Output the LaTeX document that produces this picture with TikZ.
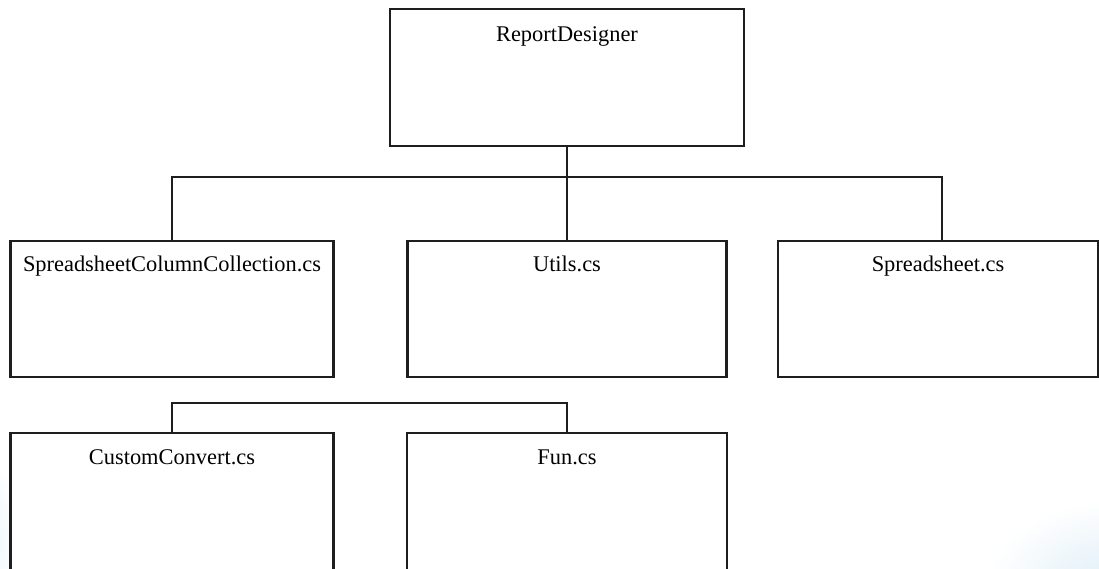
\documentclass[tikz,border=0pt]{standalone}
\usepackage{fontspec}
\setmainfont{Liberation Serif}
\definecolor{linegray}{HTML}{1E1E1E}
\definecolor{skyhaze}{HTML}{DDEDF7}
\begin{document}
\begin{tikzpicture}[x=1pt, y=-1pt,
  filebox/.style={draw=linegray, line width=2.2pt, fill=white, rectangle, inner sep=0pt},
  filename/.style={anchor=base, inner sep=0pt, font=\fontsize{22.4}{25}\selectfont, text=black},
  wire/.style={draw=linegray, line width=2.2pt, line cap=rect}]
  % page frame
  \path[use as bounding box] (0,0) rectangle (1099,568);
  \fill[white] (0,0) rectangle (1099,568);
  % faint blue glow in the lower corners
  \begin{scope}
    \clip (0,0) rectangle (1099,568);
    \shade[inner color=skyhaze, outer color=white] (1115,590) ellipse [x radius=130, y radius=90];
    \shade[inner color=skyhaze!70, outer color=white] (-20,540) ellipse [x radius=40, y radius=90];
  \end{scope}

  % boxes
  \node[filebox, minimum width=354pt, minimum height=137pt] (rd)    at (567,77.5) {};
  \node[filebox, minimum width=323pt, minimum height=136pt] (sccc)  at (172,309) {};
  \node[filebox, minimum width=319pt, minimum height=136pt] (utils) at (567,309) {};
  \node[filebox, minimum width=320pt, minimum height=136pt] (ss)    at (938,309) {};
  \node[filebox, minimum width=323pt, minimum height=170pt] (cc)    at (172,518) {};
  \node[filebox, minimum width=320pt, minimum height=170pt] (fun)   at (567,518) {};

  % titles, set on a baseline just below each box's top edge
  \node[filename] (rdT)    at ([yshift=-34pt]rd.north)    {ReportDesigner};
  \node[filename] (scccT)  at ([yshift=-32pt]sccc.north)  {SpreadsheetColumnCollection.cs};
  \node[filename] (utilsT) at ([yshift=-32pt]utils.north) {Utils.cs};
  \node[filename] (ssT)    at ([yshift=-32pt]ss.north)    {Spreadsheet.cs};
  \node[filename] (ccT)    at ([yshift=-33pt]cc.north)    {CustomConvert.cs};
  \node[filename] (funT)   at ([yshift=-33pt]fun.north)   {Fun.cs};

  % connectors
  \coordinate (bus) at (0,177);
  \coordinate (bus2) at (0,403);
  \draw[wire] (rd.south) -- (utils.north);
  \draw[wire] (sccc.north) -- (sccc.north |- bus) -- ([xshift=4pt]ss.north |- bus) -- ([xshift=4pt]ss.north);
  \draw[wire] (cc.north) -- (cc.north |- bus2) -- (fun.north |- bus2) -- (fun.north);
\end{tikzpicture}
\end{document}
